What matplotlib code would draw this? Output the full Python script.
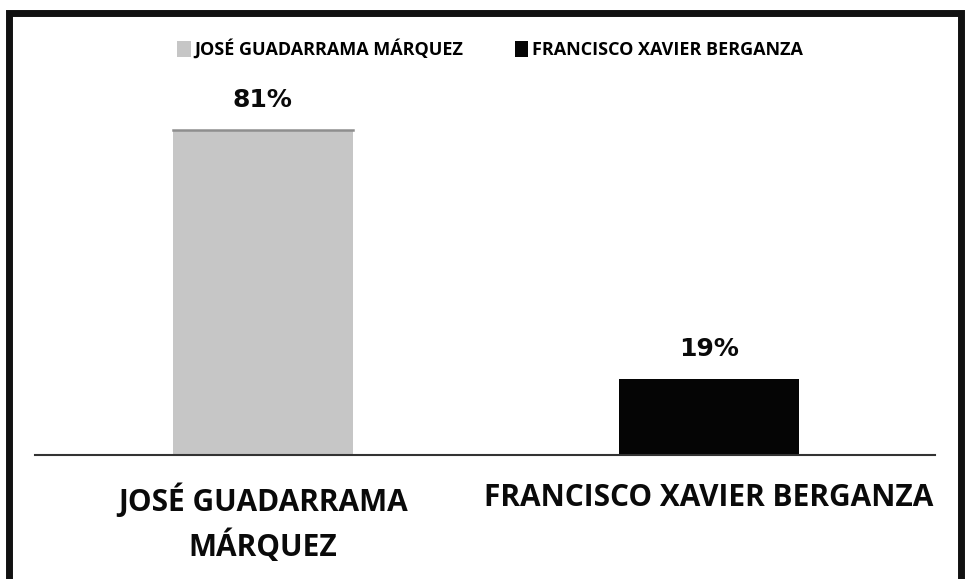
import matplotlib
matplotlib.use("Agg")
import matplotlib.pyplot as plt
from matplotlib.patches import Rectangle, Patch
from matplotlib.font_manager import FontProperties

categories = ["JOSÉ GUADARRAMA\nMÁRQUEZ", "FRANCISCO XAVIER BERGANZA"]
legend_labels = ["JOSÉ GUADARRAMA MÁRQUEZ", "FRANCISCO XAVIER BERGANZA"]
values = [81, 19]
colors = ["#c6c6c6", "#050505"]

def fp(size):
    return FontProperties(family=["Open Sans", "DejaVu Sans"], weight="bold", size=size)

fig = plt.figure(figsize=(9.7, 5.79), dpi=100)
ax = fig.add_axes([35/970, (579-455)/579, 900/970, 361/579])

x = list(range(len(values)))
w = 0.404
ax.bar(x, values, width=w, color=colors, zorder=2)
# darker top edge on the gray bar
ax.plot([x[0]-w/2, x[0]+w/2], [values[0], values[0]], color="#8e8e8e", lw=1.8, zorder=3)

for xi, v in zip(x, values):
    ax.annotate(f"{v}%", (xi, v), xytext=(0, 13), textcoords="offset points",
                ha="center", va="bottom", fontsize=18, fontweight="bold",
                family="DejaVu Sans", color="#0a0a0a")

ax.set_xlim(-0.511, 1.507)
ax.set_ylim(0, 90)
ax.set_yticks([])
ax.set_xticks(x)
ax.set_xticklabels(categories, fontproperties=fp(21.5), color="#0a0a0a", linespacing=1.45)
ax.tick_params(axis="x", length=0, pad=20.5)
for s in ["top", "left", "right"]:
    ax.spines[s].set_visible(False)
ax.spines["bottom"].set_color("#333333")
ax.spines["bottom"].set_linewidth(1.5)

handles = [Patch(facecolor=c, edgecolor="none") for c in colors]
fig.legend(handles, legend_labels, loc="center", bbox_to_anchor=(0.505, 0.915),
           ncol=2, frameon=False, handlelength=0.75, handleheight=1.0,
           handletextpad=0.2, columnspacing=2.85, prop=fp(13))

# outer black frame
fig.add_artist(Rectangle((9/970, -0.05), 952/970, 1.05 - 12.5/579,
                         transform=fig.transFigure, fill=False,
                         edgecolor="#111111", linewidth=5))

fig.savefig("out.png", dpi=100)
